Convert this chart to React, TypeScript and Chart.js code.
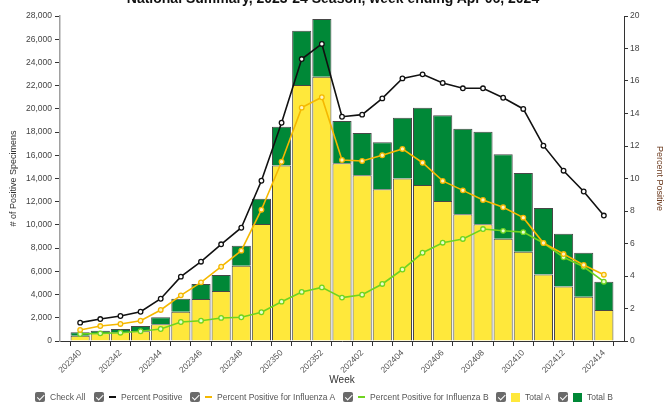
import React, { useEffect, useRef } from 'react';
import { Chart, registerables } from 'chart.js';

Chart.register(...registerables);

const chartTitle = 'National Summary, 2023-24 Season, week ending Apr 06, 2024';

const weeks = [
  '202340', '202341', '202342', '202343', '202344', '202345', '202346', '202347', '202348',
  '202349', '202350', '202351', '202352', '202401', '202402', '202403', '202404', '202405',
  '202406', '202407', '202408', '202409', '202410', '202411', '202412', '202413', '202414',
];

const totalA = [
  460, 660, 750, 840, 1440, 2530, 3620, 4310, 6490,
  10080, 15130, 22050, 22770, 15310, 14270, 13070, 14010, 13440,
  12060, 10910, 10050, 8810, 7690, 5720, 4700, 3820, 2670,
];

const totalB = [
  290, 230, 280, 450, 600, 1120, 1290, 1370, 1720,
  2180, 3330, 4680, 4970, 3640, 3650, 4050, 5230, 6660,
  7380, 7380, 7980, 7270, 6780, 5730, 4530, 3790, 2440,
];

const pctPositive = [
  1.13, 1.35, 1.54, 1.8, 2.6, 3.96, 4.88, 5.95, 6.97,
  9.86, 13.43, 17.35, 18.28, 13.8, 13.93, 14.93, 16.16, 16.41,
  15.88, 15.55, 15.55, 14.97, 14.28, 12.02, 10.48, 9.2, 7.72,
];

const pctA = [
  0.68, 0.92, 1.05, 1.25, 1.91, 2.81, 3.61, 4.57, 5.56,
  8.08, 11.03, 14.36, 15.0, 11.14, 11.08, 11.43, 11.82, 10.97,
  9.85, 9.27, 8.68, 8.23, 7.59, 6.03, 5.35, 4.68, 4.08,
];

const pctB = [
  0.43, 0.47, 0.51, 0.6, 0.74, 1.17, 1.25, 1.42, 1.46,
  1.77, 2.42, 3.02, 3.3, 2.67, 2.85, 3.51, 4.4, 5.43,
  6.05, 6.28, 6.89, 6.78, 6.7, 6.03, 5.15, 4.57, 3.65,
];

const leftMax = 28000;
const leftStep = 2000;
const rightMax = 20;
const rightStep = 2;

const COLOR_A = '#FFE83B';
const COLOR_B = '#008837';
const COLOR_PP = '#111111';
const COLOR_PA = '#F5B800';
const COLOR_PB = '#6FD420';
const FONT = "'Liberation Sans', Arial, sans-serif";

const pad = (arr: number[]) => [null, ...arr, null];

function CheckBox() {
  return (
    <span
      style={{
        position: 'relative',
        display: 'inline-block',
        width: 10,
        height: 10,
        background: '#6a6a6a',
        borderRadius: 2,
        verticalAlign: 'middle',
      }}
    >
      <span
        style={{
          position: 'absolute',
          left: 3.5,
          top: 1,
          width: 2.5,
          height: 5.5,
          borderRight: '1.5px solid #fff',
          borderBottom: '1.5px solid #fff',
          transform: 'rotate(45deg)',
        }}
      />
    </span>
  );
}

type LegendItem = { left: number; label: string; kind: 'none' | 'dash' | 'square'; color?: string };

const legendItems: LegendItem[] = [
  { left: 35, label: 'Check All', kind: 'none' },
  { left: 94, label: 'Percent Positive', kind: 'dash', color: COLOR_PP },
  { left: 190, label: 'Percent Positive for Influenza A', kind: 'dash', color: COLOR_PA },
  { left: 343, label: 'Percent Positive for Influenza B', kind: 'dash', color: COLOR_PB },
  { left: 496, label: 'Total A', kind: 'square', color: COLOR_A },
  { left: 558, label: 'Total B', kind: 'square', color: COLOR_B },
];

export default function App() {
  const canvasRef = useRef<HTMLCanvasElement | null>(null);

  useEffect(() => {
    const canvas = canvasRef.current;
    if (!canvas) return;
    const labels = ['', ...weeks, ''];
    const chart = new Chart(canvas, {
      type: 'bar',
      data: {
        labels,
        datasets: [
          {
            type: 'line',
            label: 'Percent Positive',
            data: pad(pctPositive),
            yAxisID: 'y1',
            borderColor: COLOR_PP,
            backgroundColor: '#ffffff',
            borderWidth: 1.6,
            pointRadius: 2.3,
            pointBorderWidth: 1.3,
            pointBackgroundColor: '#ffffff',
            pointBorderColor: COLOR_PP,
            tension: 0,
            order: 0,
          },
          {
            type: 'line',
            label: 'Percent Positive for Influenza A',
            data: pad(pctA),
            yAxisID: 'y1',
            borderColor: COLOR_PA,
            backgroundColor: '#ffffff',
            borderWidth: 1.6,
            pointRadius: 2.3,
            pointBorderWidth: 1.3,
            pointBackgroundColor: '#fff3c0',
            pointBorderColor: COLOR_PA,
            tension: 0,
            order: 1,
          },
          {
            type: 'line',
            label: 'Percent Positive for Influenza B',
            data: pad(pctB),
            yAxisID: 'y1',
            borderColor: COLOR_PB,
            backgroundColor: '#ffffff',
            borderWidth: 1.6,
            pointRadius: 2.3,
            pointBorderWidth: 1.3,
            pointBackgroundColor: '#e6ffcc',
            pointBorderColor: COLOR_PB,
            tension: 0,
            order: 2,
          },
          {
            type: 'bar',
            label: 'Total A',
            data: pad(totalA),
            yAxisID: 'y',
            backgroundColor: COLOR_A,
            borderColor: '#474747',
            borderWidth: 1,
            stack: 's',
            barPercentage: 0.95,
            categoryPercentage: 1,
            order: 5,
          },
          {
            type: 'bar',
            label: 'Total B',
            data: pad(totalB),
            yAxisID: 'y',
            backgroundColor: COLOR_B,
            borderColor: '#474747',
            borderWidth: 1,
            stack: 's',
            barPercentage: 0.95,
            categoryPercentage: 1,
            order: 5,
          },
        ] as any,
      },
      options: {
        animation: false,
        responsive: false,
        maintainAspectRatio: false,
        layout: { padding: { top: 16, bottom: 13, left: 0, right: 0 } },
        plugins: {
          legend: { display: false },
          tooltip: { enabled: false },
          title: { display: false },
        },
        scales: {
          x: {
            type: 'category',
            stacked: true,
            offset: false,
            grid: {
              display: true,
              drawOnChartArea: false,
              drawTicks: true,
              tickLength: 5,
              color: '#333',
            },
            border: { display: true, color: '#333', width: 1 },
            ticks: {
              autoSkip: false,
              maxRotation: 45,
              minRotation: 45,
              padding: 2,
              color: '#555',
              font: { family: FONT, size: 8.5 },
              callback: (_v: any, idx: number) => {
                const l = labels[idx];
                if (!l) return '';
                return (idx - 1) % 2 === 0 ? l : '';
              },
            },
            title: {
              display: true,
              text: 'Week',
              color: '#333',
              font: { family: FONT, size: 10 },
              padding: { top: 2, bottom: 4 },
            },
            afterFit: (scale: any) => {
              scale.height = 49;
            },
          },
          y: {
            type: 'linear',
            position: 'left',
            stacked: true,
            min: 0,
            max: leftMax,
            grid: {
              display: true,
              drawOnChartArea: false,
              drawTicks: true,
              tickLength: 5,
              color: '#333',
            },
            border: { display: true, color: '#a0a0a0', width: 1.5 },
            ticks: {
              stepSize: leftStep,
              padding: 3,
              color: '#444',
              font: { family: FONT, size: 8.5 },
              callback: (v: any) => Number(v).toLocaleString('en-US'),
            },
            title: {
              display: true,
              text: '# of Positive Specimens',
              color: '#333',
              font: { family: FONT, size: 9 },
              padding: { top: 8, bottom: 0 },
            },
            afterFit: (scale: any) => {
              scale.width = 60;
            },
          },
          y1: {
            type: 'linear',
            position: 'right',
            min: 0,
            max: rightMax,
            grid: {
              display: true,
              drawOnChartArea: false,
              drawTicks: true,
              tickLength: 4,
              color: '#333',
            },
            border: { display: true, color: '#333', width: 1 },
            ticks: {
              stepSize: rightStep,
              padding: 2,
              color: '#444',
              font: { family: FONT, size: 8.5 },
            },
            title: {
              display: true,
              text: 'Percent Positive',
              color: '#6B3A1E',
              font: { family: FONT, size: 9 },
              padding: { top: 0, bottom: 0 },
            },
            afterFit: (scale: any) => {
              scale.width = 41;
            },
          },
        },
      } as any,
    });
    return () => chart.destroy();
  }, []);

  return (
    <div
      style={{
        position: 'fixed',
        left: 0,
        top: 0,
        width: 665,
        height: 403,
        overflow: 'hidden',
        background: '#fff',
        fontFamily: FONT,
      }}
    >
      <canvas
        ref={canvasRef}
        width={665}
        height={403}
        style={{ position: 'absolute', left: 0, top: 0, width: 665, height: 403 }}
      />
      <div
        style={{
          position: 'absolute',
          left: 0,
          width: 666,
          top: -10,
          textAlign: 'center',
          fontWeight: 'bold',
          fontSize: 14,
          lineHeight: '16px',
          color: '#111',
          whiteSpace: 'nowrap',
        }}
      >
        {chartTitle}
      </div>
      {legendItems.map((it) => (
        <div
          key={it.label}
          style={{
            position: 'absolute',
            left: it.left,
            top: 391,
            height: 12,
            display: 'flex',
            alignItems: 'center',
            whiteSpace: 'nowrap',
            fontSize: 8.5,
            color: '#555',
          }}
        >
          <CheckBox />
          {it.kind === 'dash' && (
            <span
              style={{
                display: 'inline-block',
                width: 7,
                height: 1.5,
                background: it.color,
                marginLeft: 5,
              }}
            />
          )}
          {it.kind === 'square' && (
            <span
              style={{
                display: 'inline-block',
                width: 9,
                height: 9,
                background: it.color,
                marginLeft: 5,
              }}
            />
          )}
          <span style={{ marginLeft: 5 }}>{it.label}</span>
        </div>
      ))}
    </div>
  );
}
